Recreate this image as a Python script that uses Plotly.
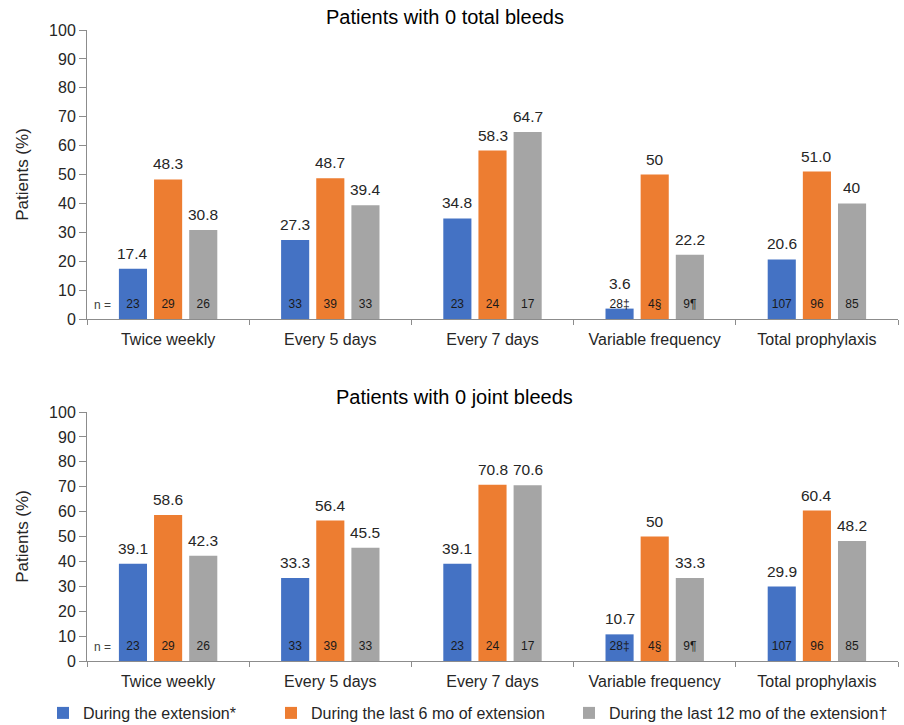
import plotly.graph_objects as go

categories = ["Twice weekly", "Every 5 days", "Every 7 days", "Variable frequency", "Total prophylaxis"]
series_names = ["During the extension*", "During the last 6 mo of extension", "During the last 12 mo of the extension†"]
colors = ["#4472C4", "#ED7D31", "#A5A5A5"]

total_ext = [17.4, 27.3, 34.8, 3.6, 20.6]
total_6mo = [48.3, 48.7, 58.3, 50, 51.0]
total_12mo = [30.8, 39.4, 64.7, 22.2, 40]
total_text_ext = ["17.4", "27.3", "34.8", "3.6", "20.6"]
total_text_6mo = ["48.3", "48.7", "58.3", "50", "51.0"]
total_text_12mo = ["30.8", "39.4", "64.7", "22.2", "40"]

joint_ext = [39.1, 33.3, 39.1, 10.7, 29.9]
joint_6mo = [58.6, 56.4, 70.8, 50, 60.4]
joint_12mo = [42.3, 45.5, 70.6, 33.3, 48.2]
joint_text_ext = ["39.1", "33.3", "39.1", "10.7", "29.9"]
joint_text_6mo = ["58.6", "56.4", "70.8", "50", "60.4"]
joint_text_12mo = ["42.3", "45.5", "70.6", "33.3", "48.2"]

n_ext = ["23", "33", "23", "28‡", "107"]
n_6mo = ["29", "39", "24", "4§", "96"]
n_12mo = ["26", "33", "17", "9¶", "85"]

yticks = [0, 10, 20, 30, 40, 50, 60, 70, 80, 90, 100]

FONT = "Liberation Sans, Arial, sans-serif"
TXT = "#262626"

# page body margin is removed by the post script, so layout is in page pixels
W, H = 904, 725
ML, MT = 87, 30
MR = W - 898
MB = H - 661
BARGAP, GROUPGAP = 0.35, 0.2
plot_w = W - ML - MR
plot_h = H - MT - MB
slot_px = plot_w / len(categories) * (1 - BARGAP) / 3
LABEL_FLOOR = 7  # keep value labels clear of the n = labels


def paper_y(page_y):
    return (H - MB - page_y) / plot_h


def paper_x(page_x):
    return (page_x - ML) / plot_w


fig = go.Figure()
annotations = []

panels = [
    ("x", "y", [total_ext, total_6mo, total_12mo], [total_text_ext, total_text_6mo, total_text_12mo], 4.8),
    ("x2", "y2", [joint_ext, joint_6mo, joint_12mo], [joint_text_ext, joint_text_6mo, joint_text_12mo], 5.6),
]
n_all = [n_ext, n_6mo, n_12mo]
legends = ["legend", "legend2", "legend3"]

for p, (xa, ya, vals, texts, ny) in enumerate(panels):
    for i in range(3):
        fig.add_trace(go.Bar(
            x=categories, y=vals[i], name=series_names[i],
            marker=dict(color=colors[i], line=dict(width=0)),
            xaxis=xa, yaxis=ya, offsetgroup=str(i), alignmentgroup=xa,
            showlegend=(p == 0), legend=legends[i], hoverinfo="skip",
        ))
        for c, v, t in zip(categories, vals[i], texts[i]):
            annotations.append(dict(
                text=t, xref=xa, yref=ya, x=c, y=max(v, LABEL_FLOOR),
                xshift=(i - 1) * slot_px, yshift=5, yanchor="bottom", xanchor="center",
                showarrow=False, font=dict(size=15.5, color=TXT, family=FONT),
            ))
    for i in range(3):
        fig.add_trace(go.Scatter(
            x=categories, y=[ny] * len(categories), mode="text",
            text=n_all[i], textposition="middle center",
            textfont=dict(size=12, color="#1a1a1a", family=FONT),
            xaxis=xa, yaxis=ya, offsetgroup=str(i), alignmentgroup=xa,
            showlegend=False, hoverinfo="skip", cliponaxis=False,
        ))
    annotations.append(dict(text="n =", xref=xa, yref=ya, x=categories[0], y=ny, xshift=-66,
                            showarrow=False, font=dict(size=12, color="#404040", family=FONT)))

annotations += [
    dict(text="Patients with 0 total bleeds", xref="paper", yref="paper", x=paper_x(445),
         y=paper_y(17), xanchor="center", yanchor="middle", showarrow=False,
         font=dict(size=20, color="#000", family=FONT)),
    dict(text="Patients with 0 joint bleeds", xref="paper", yref="paper", x=paper_x(454),
         y=paper_y(397), xanchor="center", yanchor="middle", showarrow=False,
         font=dict(size=20, color="#000", family=FONT)),
]

axis_common = dict(
    showline=True, linecolor="#8c8c8c", linewidth=1, showgrid=False, zeroline=False,
    ticks="outside", tickcolor="#8c8c8c", ticklen=7,
    tickfont=dict(size=16, color=TXT, family=FONT),
)
xcommon = dict(axis_common, domain=[0, 1], tickson="boundaries", ticklen=5, ticklabelstandoff=6,
               categoryorder="array", categoryarray=categories,
               tickfont=dict(size=16, color=TXT, family=FONT))
ytitle = dict(text="Patients (%)", font=dict(size=17, color=TXT, family=FONT), standoff=16)

legend_common = dict(orientation="h", xref="container", yref="container", y=(H - 713) / H,
                     xanchor="left", yanchor="middle", font=dict(size=16, color=TXT, family=FONT),
                     itemwidth=30, bgcolor="rgba(0,0,0,0)")


def legend_x(page_square_left):
    return (page_square_left - 16) / W


fig.update_layout(
    width=W, height=H,
    paper_bgcolor="white", plot_bgcolor="white",
    margin=dict(l=ML, r=MR, t=MT, b=MB, autoexpand=False),
    barmode="group", bargap=BARGAP, bargroupgap=GROUPGAP,
    scattermode="group", scattergap=BARGAP,
    font=dict(family=FONT, color=TXT),
    xaxis=dict(xcommon, anchor="y"),
    yaxis=dict(axis_common, domain=[paper_y(319), 1], anchor="x", range=[0, 100],
               tickvals=yticks, title=ytitle),
    xaxis2=dict(xcommon, anchor="y2"),
    yaxis2=dict(axis_common, domain=[0, paper_y(412)], anchor="x2", range=[0, 100],
                tickvals=yticks, title=ytitle),
    legend=dict(legend_common, x=legend_x(59)),
    legend2=dict(legend_common, x=legend_x(287)),
    legend3=dict(legend_common, x=legend_x(585)),
    annotations=annotations,
)

fig.write_html("out.html", config={"displayModeBar": False},
               post_script="document.body.style.margin='0';")
